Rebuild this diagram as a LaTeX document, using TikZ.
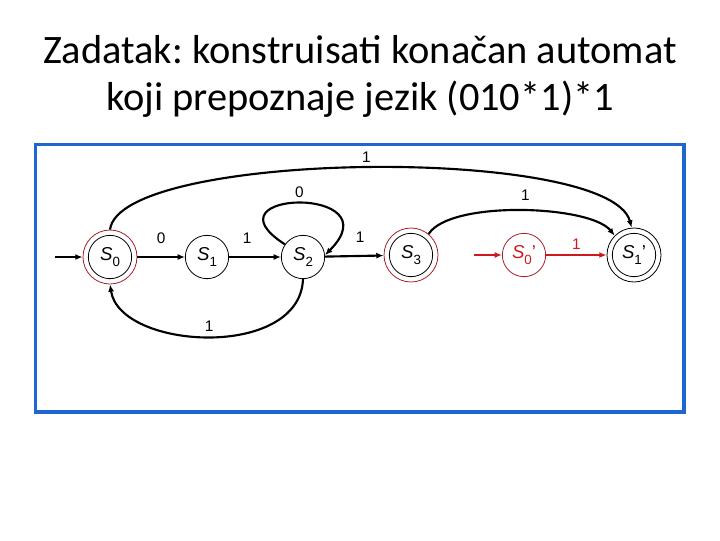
\documentclass[tikz,border=0pt]{standalone}
\usepackage{fontspec}
\setmainfont{Liberation Sans}
\newfontfamily\titlefont{Carlito}
\usetikzlibrary{arrows.meta}
\definecolor{frameblue}{RGB}{30,102,210}
\definecolor{accred}{RGB}{170,30,40}
\definecolor{sred}{RGB}{205,25,30}
\frenchspacing
\newcommand\sname[1]{\textit{S}\raisebox{-0.55ex}{\fontsize{10}{10}\selectfont #1}}
\begin{document}
\begin{tikzpicture}[x=0.75pt,y=-0.75pt,
  state/.style={circle,draw=black,line width=0.6pt,minimum size=32.5pt,inner sep=0pt,font=\fontsize{14}{15}\selectfont},
  ring/.style={circle,draw=accred,line width=0.6pt,minimum size=40.5pt,inner sep=0pt},
  edge/.style={line width=1.6pt,-{Latex[length=5.5pt,width=4.5pt]}},
  lbl/.style={font=\fontsize{11.5}{12}\selectfont,inner sep=0pt},
  ttl/.style={font=\titlefont\fontsize{30.3}{35}\selectfont,anchor=base}]
\useasboundingbox (0,0) rectangle (720,540);
% title
\node[ttl] (t1) at (360,63) {Zadatak: konstruisati konačan automat};
\node[ttl] (t2) at (360,110) {koji prepoznaje jezik (010*1)*1};
% frame
\draw[frameblue,line width=2.3pt] (35.5,144.5) rectangle (684,412);
% states
\node[state] (s0) at (110,257) {\sname{0}};
\node[ring] (s0r) at (s0) {};
\node[state] (s1) at (207,257) {\sname{1}};
\node[state] (s2) at (303,257) {\sname{2}};
\node[state] (s3) at (411,255) {\sname{3}};
\node[ring] (s3r) at (s3) {};
\node[state,draw=accred,text=sred] (s0p) at (524,255) {\sname{0}'};
\node[state] (s1p) at (634,255) {\sname{1}'};
\node[ring,draw=black] (s1pr) at (s1p) {};
% initial arrows
\coordinate (i0) at (55,257);
\coordinate (i1) at (474,255);
\draw[edge] (i0) -- (s0r);
\draw[edge,sred] (i1) -- (s0p);
% transitions
\draw[edge] (s0r) -- node[lbl,above=9pt] {0} (s1);
\draw[edge] (s1) -- node[lbl,pos=0.35,above=9pt] {1} (s2);
\draw[edge] (s2) -- node[lbl,pos=0.6,above=9pt] {1} (s3r);
\draw[edge,sred] (s0p) -- node[lbl,above=3pt,text=sred] {1} (s1pr);
\draw[edge] (s2.145) .. controls (200,190) and (395,185) .. node[lbl,pos=0.5,above=3pt] {0} (s2.5);
\draw[edge] (s0r.north) .. controls (120,150) and (610,145) .. node[lbl,pos=0.5,above=3pt] {1} (s1pr.95);
\draw[edge] (s3r.50) .. controls (450,200) and (590,205) .. node[lbl,pos=0.52,above=7pt] {1} (s1pr.135);
\draw[edge] (s2.south) .. controls (300,360) and (120,350) .. node[lbl,pos=0.5,above=3pt] {1} (s0r.south);
\end{tikzpicture}
\end{document}
